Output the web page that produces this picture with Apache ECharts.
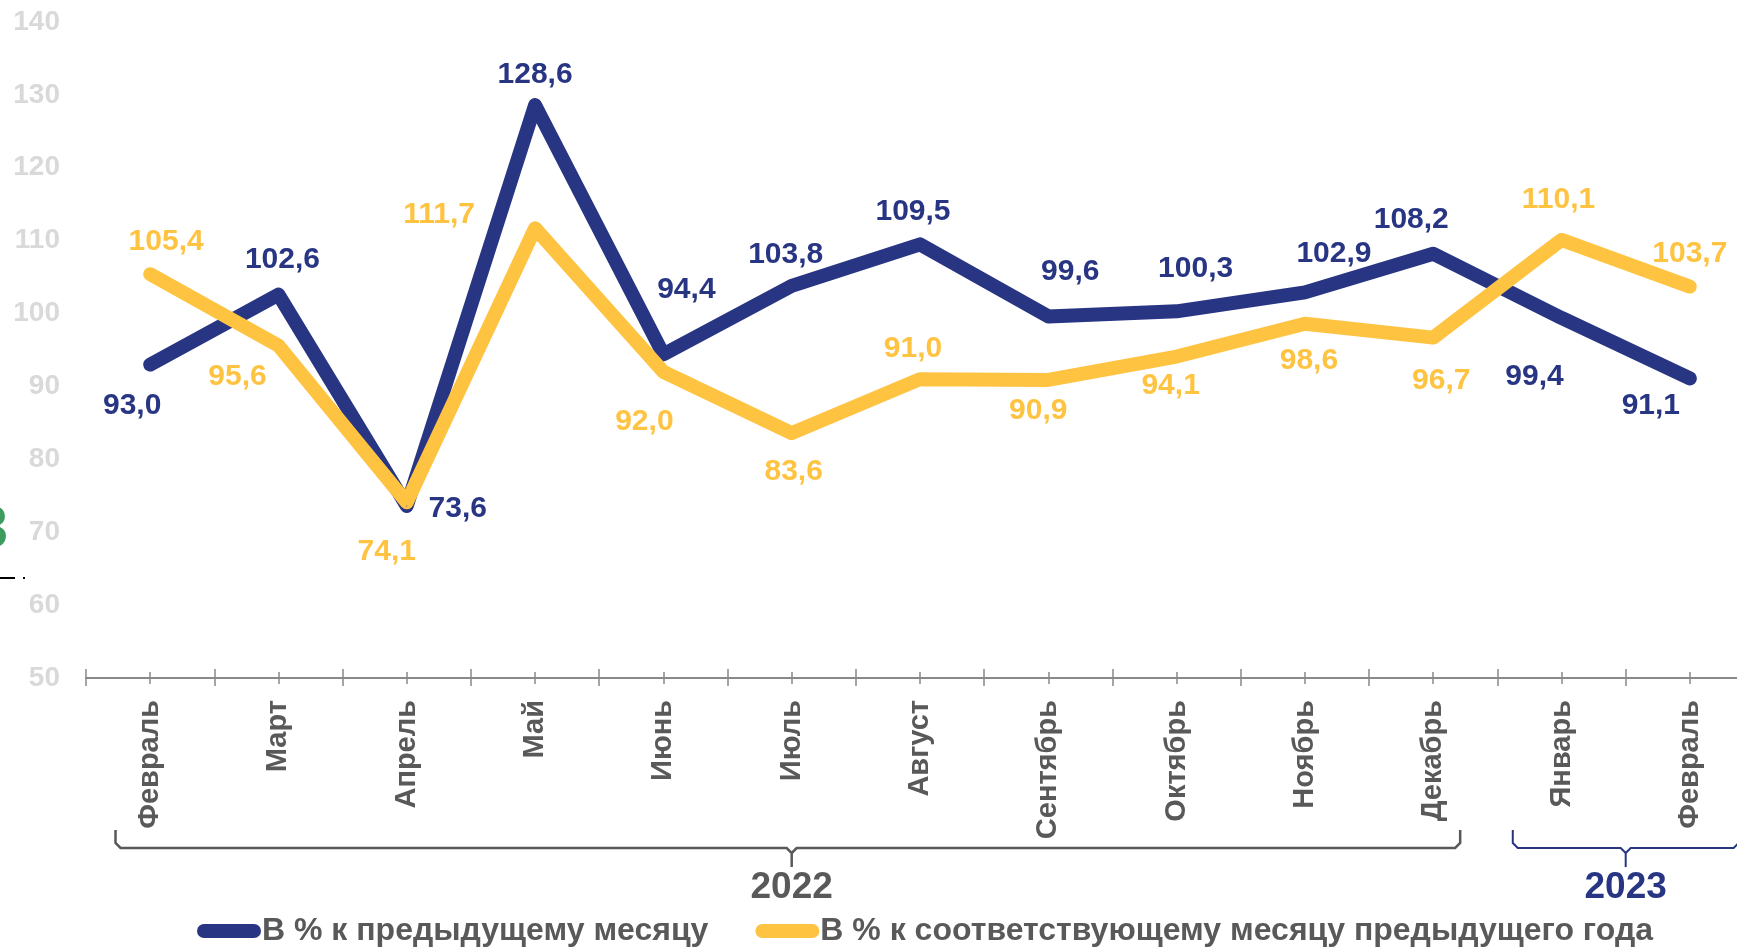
<!DOCTYPE html>
<html>
<head>
<meta charset="utf-8">
<script src="https://cdn.jsdelivr.net/npm/echarts@6/dist/echarts.min.js"></script>
<style>
  html, body { margin: 0; padding: 0; background: #fff; overflow: hidden; }
  #chart { width: 1737px; height: 949px; }
</style>
</head>
<body>
<div id="chart"></div>
<script>
const months = ['Февраль', 'Март', 'Апрель', 'Май', 'Июнь', 'Июль', 'Август', 'Сентябрь', 'Октябрь', 'Ноябрь', 'Декабрь', 'Январь', 'Февраль'];
const prevMonth = [93.0, 102.6, 73.6, 128.6, 94.4, 103.8, 109.5, 99.6, 100.3, 102.9, 108.2, 99.4, 91.1];
const prevYear = [105.4, 95.6, 74.1, 111.7, 92.0, 83.6, 91.0, 90.9, 94.1, 98.6, 96.7, 110.1, 103.7];
const seriesNames = ['В % к предыдущему месяцу', 'В % к соответствующему месяцу предыдущего года'];
const years = ['2022', '2023'];

// where each value label sits relative to its point (px)
const prevMonthOffsets = [[-18, 41], [4, -35], [51, 3], [0, -30], [23, -65], [-6, -31], [-7, -33], [22, -45], [19, -43], [29, -39], [-22, -34], [-27, 59], [-39, 27]];
const prevYearOffsets = [[16, -32], [-41, 31], [-20, 49], [-96, -14], [-19, 50], [2, 39], [-7, -30], [-10, 31], [-6, 29], [4, 37], [8, 43], [-3, -40], [0, -33]];

const FONT = "'Liberation Sans', Arial, sans-serif";
const BLUE = '#283583';
const YELLOW = '#FFC342';
const GREY = '#595959';

const chart = echarts.init(document.getElementById('chart'));

function fmt(p) {
  return p.value.toFixed(1).replace('.', ',');
}

function makeSeries(name, values, offsets, color) {
  return {
    name: name,
    type: 'line',
    xAxisIndex: 0,
    data: values.map((v, i) => ({ value: v, label: { offset: offsets[i] } })),
    symbol: 'circle',
    symbolSize: 1,
    itemStyle: { color: color },
    lineStyle: { color: color, width: 14, cap: 'round', join: 'round' },
    label: {
      show: true,
      position: 'inside',
      formatter: fmt,
      color: color,
      fontFamily: FONT,
      fontWeight: 'bold',
      fontSize: 30
    },
    emphasis: { disabled: true },
    animation: false
  };
}

const legendIcon = 'path://M7,0 H57 A7,7 0 0 1 57,14 H7 A7,7 0 0 1 7,0 Z';

const option = {
  animation: false,
  // the plot runs a little past the right edge of the picture
  grid: { left: 86, right: -17, top: 22, bottom: 271, outerBoundsMode: 'none' },
  legend: {
    data: seriesNames,
    left: 197,
    top: 915,
    icon: legendIcon,
    itemWidth: 64,
    itemHeight: 14,
    itemGap: 47,
    padding: 0,
    textStyle: { fontFamily: FONT, fontWeight: 'bold', fontSize: 32, color: GREY, padding: [0, 0, 0, -4] }
  },
  xAxis: [
    {
      type: 'category',
      data: months,
      boundaryGap: true,
      axisLine: { lineStyle: { color: '#898989', width: 2 } },
      axisTick: { show: false },
      axisLabel: {
        rotate: 90,
        margin: 22,
        interval: 0,
        fontFamily: FONT,
        fontWeight: 'bold',
        fontSize: 29,
        color: GREY
      }
    },
    {
      type: 'category',
      data: months,
      position: 'bottom',
      offset: -9,
      axisLine: { show: false },
      axisLabel: { show: false },
      axisTick: { show: true, length: 17, interval: 0, lineStyle: { color: '#898989', width: 1.5 } }
    },
    {
      type: 'category',
      data: months,
      position: 'bottom',
      offset: -6,
      axisLine: { show: false },
      axisLabel: { show: false },
      axisTick: { show: true, alignWithLabel: true, length: 12, interval: 0, lineStyle: { color: '#898989', width: 1.5 } }
    }
  ],
  yAxis: {
    type: 'value',
    min: 50,
    max: 140,
    interval: 10,
    splitLine: { show: false },
    axisLine: { show: false },
    axisTick: { show: false },
    axisLabel: {
      margin: 26,
      fontFamily: FONT,
      fontWeight: 'bold',
      fontSize: 28,
      color: '#D9D9D9'
    }
  },
  series: [
    makeSeries(seriesNames[0], prevMonth, prevMonthOffsets, BLUE),
    makeSeries(seriesNames[1], prevYear, prevYearOffsets, YELLOW)
  ]
};

chart.setOption(option);

// year braces under the month labels
function brace(left, center, right, color, width) {
  const top = 830, line = 848, tip = 867;
  return [
    {
      type: 'polyline',
      silent: true,
      shape: { points: [[left, top], [left, line - 5], [left + 5, line], [center - 5, line], [center, line + 5], [center, tip]] },
      style: { stroke: color, lineWidth: width, fill: null }
    },
    {
      type: 'polyline',
      silent: true,
      shape: { points: [[center, line + 5], [center + 5, line], [right - 5, line], [right, line - 5], [right, top]] },
      style: { stroke: color, lineWidth: width, fill: null }
    }
  ];
}

const px = i => chart.convertToPixel({ xAxisIndex: 0 }, i);
const step = px(1) - px(0);

const c2022 = (px(0) + px(10)) / 2;
const l2022 = px(0) - 0.27 * step;
const r2022 = px(10) + 0.21 * step;
const c2023 = (px(11) + px(12)) / 2;
const l2023 = px(11) - 0.38 * step;
const r2023 = c2023 + (c2023 - l2023);

chart.setOption({
  graphic: [
    ...brace(l2022, c2022, r2022, GREY, 2.5),
    ...brace(l2023, c2023, r2023, BLUE, 2),
    {
      type: 'text', silent: true, x: c2022, y: 888,
      style: { text: years[0], fill: GREY, font: 'bold 37px ' + FONT, textAlign: 'center', textVerticalAlign: 'middle' }
    },
    {
      type: 'text', silent: true, x: c2023, y: 888,
      style: { text: years[1], fill: BLUE, font: 'bold 37px ' + FONT, textAlign: 'center', textVerticalAlign: 'middle' }
    },
    // bits of the neighbouring slide cut at the left edge
    {
      type: 'text', silent: true, x: 8, y: 530,
      style: { text: '3', fill: '#3C9C5E', font: 'bold 60px ' + FONT, textAlign: 'right', textVerticalAlign: 'middle' }
    },
    { type: 'rect', silent: true, shape: { x: 0, y: 577, width: 15, height: 2 }, style: { fill: '#000' } },
    { type: 'rect', silent: true, shape: { x: 23, y: 577, width: 2, height: 2 }, style: { fill: '#000' } }
  ]
});
</script>
</body>
</html>
